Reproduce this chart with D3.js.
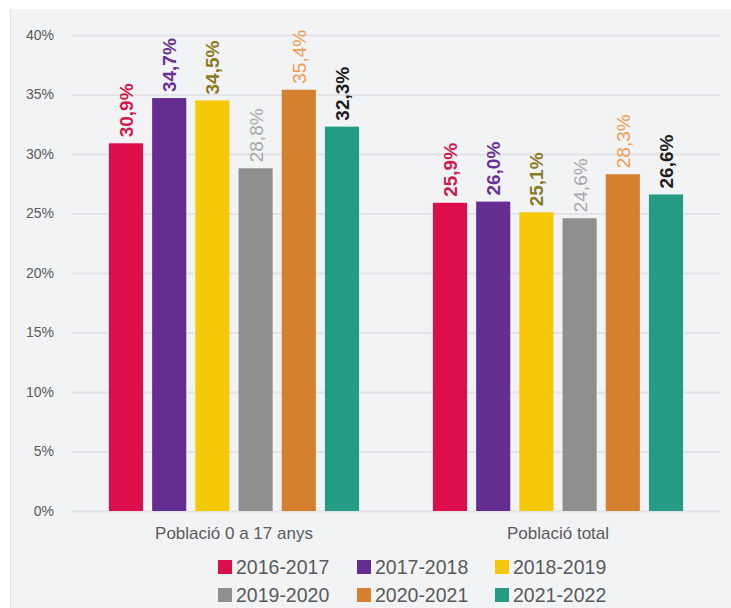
<!DOCTYPE html>
<html>
<head>
<meta charset="utf-8">
<script src="https://cdn.jsdelivr.net/npm/d3@7"></script>
<style>
  html, body { margin: 0; padding: 0; background: #ffffff; }
  svg { display: block; font-family: "Liberation Sans", Arial, sans-serif; }
</style>
</head>
<body>
<svg id="chart" width="731" height="608"></svg>
<script>
// Categories, series and values
const categories = ["Població 0 a 17 anys", "Població total"];
const seriesNames = ["2016-2017", "2017-2018", "2018-2019", "2019-2020", "2020-2021", "2021-2022"];
const values0a17 = [30.9, 34.7, 34.5, 28.8, 35.4, 32.3];
const valuesTotal = [25.9, 26.0, 25.1, 24.6, 28.3, 26.6];
const yTicks = [0, 5, 10, 15, 20, 25, 30, 35, 40];

const barColors = ["#dc0e4b", "#662d91", "#f5c907", "#8f8f8f", "#d4802f", "#259b86"];
const labelColors = ["#d11a4c", "#6a2f94", "#8a7b1e", "#a9a9a9", "#f19c50", "#1c1c1c"];
const labelWeights = ["bold", "bold", "bold", "normal", "normal", "bold"];

const rows = categories.map((c, i) => ({
  category: c,
  values: (i === 0 ? values0a17 : valuesTotal).map((v, j) => ({ series: seriesNames[j], idx: j, value: v }))
}));

const svg = d3.select("#chart");

// panel background
svg.append("rect").attr("x", 10).attr("y", 9).attr("width", 721).attr("height", 599)
  .attr("fill", "#f2f3f5");
svg.append("line").attr("x1", 10.5).attr("x2", 10.5).attr("y1", 9).attr("y2", 608)
  .attr("stroke", "#e2e3e6").attr("stroke-width", 1);

const x0 = d3.scaleBand().domain(categories).range([72, 720]).paddingInner(0.2).paddingOuter(0.1);
const x1 = d3.scaleBand().domain(seriesNames).range([0, x0.bandwidth()]).paddingInner(0.21).paddingOuter(0.105);
const y = d3.scaleLinear().domain([0, 40]).range([511, 35]);

// gridlines and y axis
const yAxis = d3.axisLeft(y).tickValues(yTicks).tickFormat(d => d + "%").tickSize(-(720 - 72)).tickPadding(18);
const gy = svg.append("g").attr("transform", "translate(72,0)").call(yAxis);
gy.select(".domain").remove();
gy.selectAll(".tick line").attr("stroke", "#e3e4e7").attr("stroke-width", 2);
gy.selectAll(".tick text").attr("fill", "#5a5a5a").attr("font-size", 14);

// x axis labels
const xAxis = d3.axisBottom(x0).tickSize(0).tickPadding(16);
const gx = svg.append("g").attr("transform", "translate(0,511)").call(xAxis);
gx.select(".domain").remove();
gx.selectAll(".tick text").attr("fill", "#5a5a5a").attr("font-size", 17);

// bars
const groups = svg.append("g").selectAll("g").data(rows).join("g")
  .attr("transform", d => `translate(${x0(d.category)},0)`);

groups.selectAll("rect").data(d => d.values).join("rect")
  .attr("x", d => x1(d.series))
  .attr("y", d => y(d.value))
  .attr("width", x1.bandwidth())
  .attr("height", d => y(0) - y(d.value))
  .attr("fill", d => barColors[d.idx]);

// value labels, rotated above each bar
groups.selectAll("text.val").data(d => d.values).join("text")
  .attr("class", "val")
  .attr("transform", d => `translate(${x1(d.series) + x1.bandwidth() / 2 + 7},${y(d.value) - 6}) rotate(-90)`)
  .attr("text-anchor", "start")
  .attr("font-size", 19)
  .attr("font-weight", d => labelWeights[d.idx])
  .attr("fill", d => labelColors[d.idx])
  .text(d => d.value.toFixed(1).replace(".", ",") + "%");

// legend, two rows of three
const legendX = [218, 357, 495];
const legendY = [567, 595];
const legend = svg.append("g").selectAll("g").data(seriesNames).join("g")
  .attr("transform", (d, i) => `translate(${legendX[i % 3]},${legendY[Math.floor(i / 3)]})`);
legend.append("rect").attr("x", 0).attr("y", -7).attr("width", 14).attr("height", 14)
  .attr("fill", (d, i) => barColors[i]);
legend.append("text").attr("x", 18).attr("y", 0).attr("dy", "0.36em")
  .attr("font-size", 19.5).attr("fill", "#5a5a5a").text(d => d);
</script>
</body>
</html>
